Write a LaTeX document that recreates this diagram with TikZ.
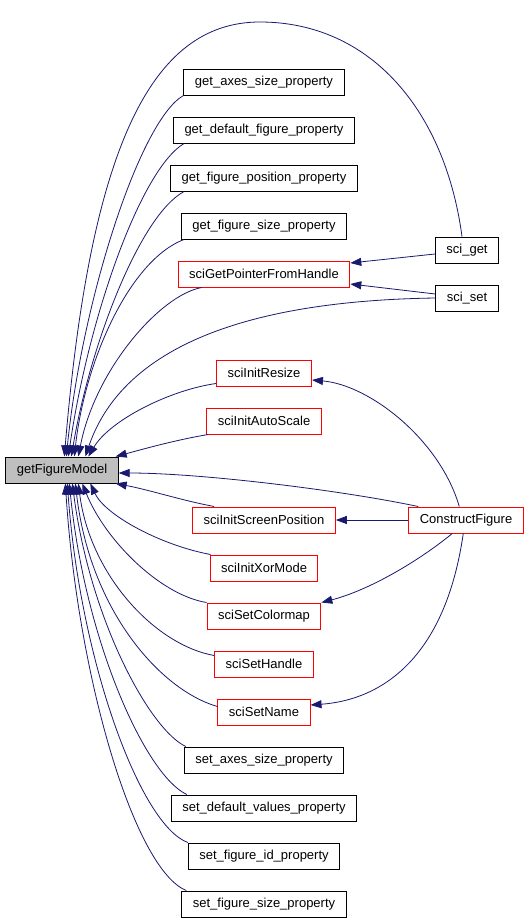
\documentclass[tikz,border=0pt]{standalone}
\usepackage{fontspec}
\setmainfont{Liberation Sans}
\usetikzlibrary{arrows.meta}
\definecolor{edgeblue}{RGB}{25,25,112}
\definecolor{modelgray}{RGB}{191,191,191}
\tikzstyle{func} = [rectangle, minimum height=26pt, inner xsep=11pt, text centered, draw=black, line width=1pt, font=\fontsize{13}{15}\selectfont]
\tikzstyle{funcred} = [func, draw=red]
\tikzstyle{model} = [func, fill=modelgray]
\tikzstyle{arrow} = [draw=edgeblue, line width=0.8pt, -{Triangle[length=11pt,width=8pt]}]

\begin{document}
\begin{tikzpicture}[x=1pt, y=-1pt, node distance=48pt]
\fill[white] (0,0) rectangle (530,919);
\useasboundingbox (0,0) rectangle (530,919);

\node (figModel) [model] at (62,470) {getFigureModel};

\node (getAxes) [func] at (264,82) {get\_axes\_size\_property};
\node (getDefault) [func, below of=getAxes] {get\_default\_figure\_property};
\node (getPosition) [func, below of=getDefault] {get\_figure\_position\_property};
\node (getSize) [func, below of=getPosition] {get\_figure\_size\_property};
\node (sciGetPointer) [funcred, below of=getSize] {sciGetPointerFromHandle};
\node (initResize) [funcred, node distance=99pt, below of=sciGetPointer] {sciInitResize};
\node (initAutoScale) [funcred, below of=initResize] {sciInitAutoScale};
\node (initScreenPos) [funcred, node distance=99pt, below of=initAutoScale] {sciInitScreenPosition};
\node (initXorMode) [funcred, below of=initScreenPos] {sciInitXorMode};
\node (setColormap) [funcred, below of=initXorMode] {sciSetColormap};
\node (setHandle) [funcred, below of=setColormap] {sciSetHandle};
\node (setName) [funcred, below of=setHandle] {sciSetName};
\node (setAxes) [func, below of=setName] {set\_axes\_size\_property};
\node (setDefault) [func, below of=setAxes] {set\_default\_values\_property};
\node (setFigId) [func, below of=setDefault] {set\_figure\_id\_property};
\node (setSize) [func, below of=setFigId] {set\_figure\_size\_property};

\node (sciGet) [func] at (467,250) {sci\_get};
\node (sciSet) [func, below of=sciGet] {sci\_set};
\node (constructFig) [funcred] at (466,520) {ConstructFigure};

% upper callers
\draw [arrow] ([xshift=-5pt]sciGet.north) .. controls (445,110) and (370,22) .. (260,22) .. controls (150,22) and (90,150) .. ([xshift=59pt]figModel.north west);
\draw [arrow] (getAxes.south west) .. controls (140,120) and (82,300) .. ([xshift=61pt]figModel.north west);
\draw [arrow] ([xshift=11pt]getDefault.south west) .. controls (140,170) and (88,320) .. ([xshift=63pt]figModel.north west);
\draw [arrow] ([xshift=14pt]getPosition.south west) .. controls (140,215) and (90,345) .. ([xshift=66pt]figModel.north west);
\draw [arrow] ([xshift=3pt]getSize.south west) .. controls (130,260) and (85,360) .. ([xshift=69pt]figModel.north west);
\draw [arrow] ([xshift=24pt]sciGetPointer.south west) .. controls (160,295) and (95,370) .. ([xshift=73pt]figModel.north west);
\draw [arrow] (sciSet.west) .. controls (300,300) and (130,325) .. ([xshift=80pt]figModel.north west);
\draw [arrow] ([yshift=3pt]initResize.south west) .. controls (170,390) and (110,420) .. ([xshift=83pt]figModel.north west);
\draw [arrow] ([xshift=2pt]initAutoScale.south west) .. controls (175,440) and (140,450) .. ([xshift=-3pt]figModel.north east);
\draw [arrow] ([xshift=10pt]constructFig.north west) .. controls (340,490) and (200,473) .. ([yshift=-3pt]figModel.east);

% lower callers
\draw [arrow] ([xshift=22pt]initScreenPos.north west) .. controls (180,500) and (150,490) .. ([xshift=-3pt]figModel.south east);
\draw [arrow] ([xshift=1pt]initXorMode.north west) .. controls (160,545) and (105,515) .. ([xshift=85pt]figModel.south west);
\draw [arrow] (setColormap.north west) .. controls (160,595) and (105,540) .. ([xshift=77pt]figModel.south west);
\draw [arrow] ([yshift=-5pt]setHandle.north west) .. controls (155,645) and (90,575) .. ([xshift=73pt]figModel.south west);
\draw [arrow] ([yshift=-8pt]setName.north west) .. controls (160,690) and (90,610) .. ([xshift=70pt]figModel.south west);
\draw [arrow] ([xshift=2pt]setAxes.north west) .. controls (150,730) and (90,620) .. ([xshift=67pt]figModel.south west);
\draw [arrow] ([xshift=16pt]setDefault.north west) .. controls (145,775) and (85,640) .. ([xshift=64pt]figModel.south west);
\draw [arrow] (setFigId.north west) .. controls (140,825) and (80,660) .. ([xshift=62pt]figModel.south west);
\draw [arrow] ([xshift=5pt]setSize.north west) .. controls (135,870) and (78,680) .. ([xshift=60pt]figModel.south west);

% right column
\draw [arrow] ([yshift=-4pt]sciGet.west) -- ([yshift=11pt]sciGetPointer.east);
\draw [arrow] ([yshift=4pt]sciSet.west) -- ([yshift=-10pt]sciGetPointer.east);
\draw [arrow] ([xshift=51pt]constructFig.north west) .. controls (440,440) and (370,385) .. ([yshift=-7pt]initResize.east);
\draw [arrow] (constructFig.west) -- (initScreenPos.east);
\draw [arrow] ([xshift=44pt]constructFig.south west) .. controls (420,560) and (370,590) .. (setColormap.north east);
\draw [arrow] ([xshift=55pt]constructFig.south west) .. controls (445,660) and (380,700) .. ([yshift=7pt]setName.east);

\end{tikzpicture}
\end{document}
